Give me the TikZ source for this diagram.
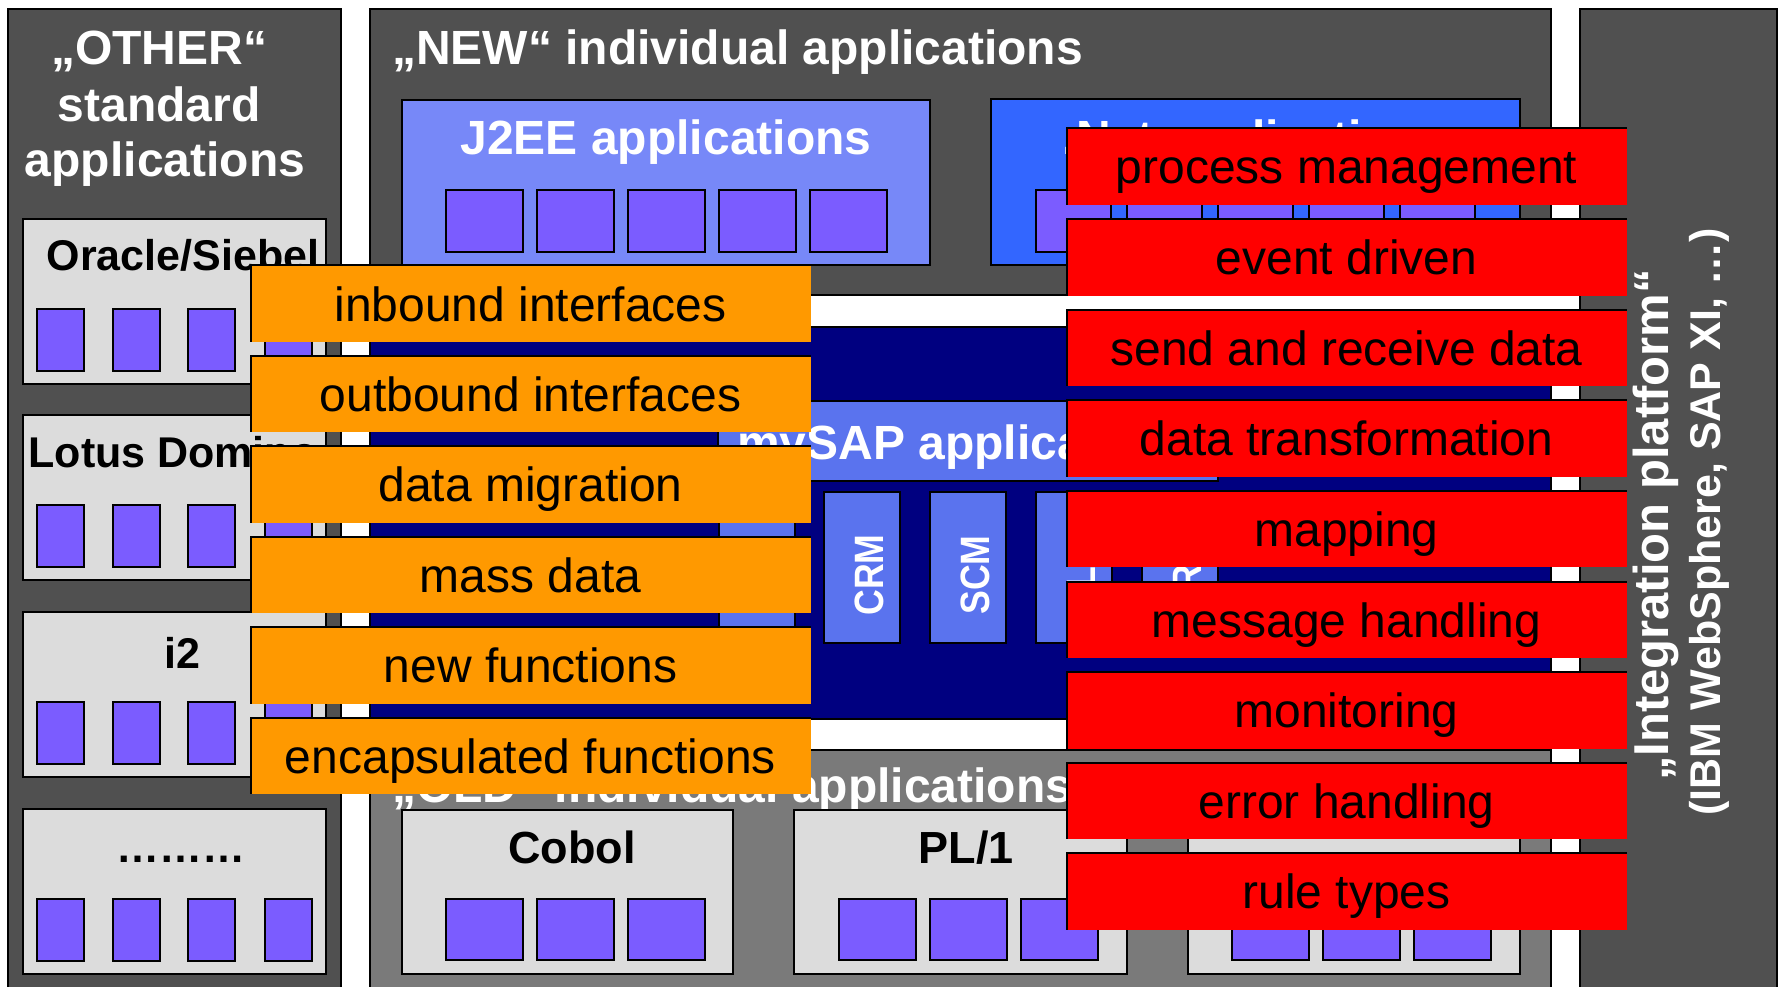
\documentclass[tikz,border=0pt]{standalone}
\usepackage{fontspec}
\setmainfont{Liberation Sans}
\definecolor{panelgray}{HTML}{505050}
\definecolor{oldgray}{HTML}{7A7A7A}
\definecolor{boxgray}{HTML}{DCDCDC}
\definecolor{sqpurple}{HTML}{7B5CFF}
\definecolor{jeeblue}{HTML}{7788F8}
\definecolor{netblue}{HTML}{3366FF}
\definecolor{sapnavy}{HTML}{000080}
\definecolor{sapblue}{HTML}{5A73EE}
\definecolor{featorange}{HTML}{FF9900}
\definecolor{featred}{HTML}{FF0000}
\newcommand{\fsz}[2]{\fontsize{#1}{#2}\selectfont}
\newcommand{\otherbox}[5]{%
  \draw[lbox] (23,#2) rectangle (326,#2+165);
  \node[btitle] (#1) at (#4,#2+#5) {#3};
  \foreach \sx in {37,113,188,265} \draw[sqr] (\sx,#2+90) rectangle (\sx+47,#2+152);
}
\begin{document}
\begin{tikzpicture}[x=1pt,y=-1pt,
  panel/.style={draw=black,line width=2pt},
  lbox/.style={fill=boxgray,draw=black,line width=2.5pt},
  sqr/.style={fill=sqpurple,draw=black,line width=2pt},
  lbl/.style={inner sep=0pt,anchor=base},
  wtitle/.style={lbl,text=white,font={\fsz{48}{57}\bfseries}},
  btitle/.style={lbl,text=black,font={\fsz{43}{51}\bfseries}},
  feat/.style={rectangle,inner sep=0pt,minimum width=561pt,minimum height=77pt,
     path picture={\draw[line width=3pt] (path picture bounding box.south west) -- (path picture bounding box.north west) -- (path picture bounding box.north east);}},
  feattext/.style={lbl,text=black,font={\fsz{48}{57}}},
  modbox/.style={fill=sapblue,draw=black,line width=2.5pt},
  modtext/.style={lbl,rotate=90,text=white,font={\fsz{41}{48}\bfseries}}
]
\useasboundingbox (0,0) rectangle (1781,987);
\fill[white] (0,0) rectangle (1781,987);
\clip (0,0) rectangle (1781,987);

% OTHER standard applications
\draw[panel,fill=panelgray] (8,9) rectangle (341,1000);
\node[wtitle] (othA) at (159,65) {„OTHER“};
\node[wtitle] (othB) at (159,122) {standard};
\node[wtitle] (othC) at (165,177) {applications};
\otherbox{ora}{219}{Oracle/Siebel}{183}{51}
\otherbox{lotus}{415}{Lotus Domino}{173}{52}
\otherbox{itwo}{612}{i2}{182}{56}
\otherbox{more}{809}{………}{181}{53}

% NEW individual applications
\draw[panel,fill=panelgray] (370,9) rectangle (1551,295);
\node[wtitle,anchor=base west] (newt) at (392,65) {„NEW“ individual applications};
\draw[lbox,fill=jeeblue] (402,100) rectangle (930,265);
\node[wtitle] (jee) at (666,155) {J2EE applications};
\foreach \sx in {446,537,628,719,810} \draw[sqr] (\sx,190) rectangle (\sx+77,252);
\draw[lbox,fill=netblue] (991,99) rectangle (1520,265);
\node[wtitle] (net) at (1255,155) {.Net applications};
\foreach \sx in {1036,1127,1218,1309,1400} \draw[sqr] (\sx,190) rectangle (\sx+75,252);

% mySAP
\draw[panel,fill=sapnavy] (370,327) rectangle (1551,719);
\draw[modbox] (718,401) rectangle (1218,481);
\node[wtitle] (sap) at (968,459) {mySAP applications};
\foreach \bx/\m in {719/ERP,824/CRM,930/SCM,1036/PLM,1142/SRM} {
  \draw[modbox] (\bx,492) rectangle (\bx+76,643);
  \node[modtext] (m\m) at (\bx+59,575) {\scalebox{0.87}[1]{\m}};
}

% OLD individual applications
\draw[panel,fill=oldgray] (370,750) rectangle (1551,1000);
\node[wtitle,anchor=base west] (oldt) at (392,802) {„OLD“ individual applications};
\draw[lbox] (402,810) rectangle (733,974);
\node[lbl,font={\fsz{45}{53}\bfseries}] (cobol) at (572,863) {Cobol};
\foreach \sx in {446,537,628} \draw[sqr] (\sx,899) rectangle (\sx+77,960);
\draw[lbox] (794,810) rectangle (1127,974);
\node[lbl,font={\fsz{45}{53}\bfseries}] (pli) at (966,863) {PL/1};
\foreach \sx in {839,930,1021} \draw[sqr] (\sx,899) rectangle (\sx+77,960);
\draw[lbox] (1188,810) rectangle (1520,974);
\foreach \sx in {1232,1323,1414} \draw[sqr] (\sx,899) rectangle (\sx+77,960);

% Integration platform
\draw[panel,fill=panelgray] (1580,9) rectangle (1777,1000);
\node[lbl,rotate=90,text=white,font={\fsz{49}{58}\bfseries}] (intA) at (1668,525) {„Integration platform“};
\node[lbl,rotate=90,text=white,font={\fsz{43}{51}\bfseries}] (intB) at (1720,522) {(IBM WebSphere, SAP XI, …)};

% orange feature bars
\foreach \i/\t in {0/inbound interfaces,1/outbound interfaces,2/data migration,3/mass data,4/new functions,5/encapsulated functions} {
  \node[feat,fill=featorange] (o\i) at (530.5,265+90.4*\i+38.5) {};
  \node[feattext] (ot\i) at (530.5,265+90.4*\i+56) {\t};
}

% red feature bars
\foreach \i/\t in {0/process management,1/event driven,2/send and receive data,3/data transformation,4/mapping,5/message handling,6/monitoring,7/error handling,8/rule types} {
  \node[feat,fill=featred] (r\i) at (1346.5,128+90.6*\i+38.5) {};
  \node[feattext] (rt\i) at (1346.5,128+90.6*\i+56) {\t};
}
\end{tikzpicture}
\end{document}
